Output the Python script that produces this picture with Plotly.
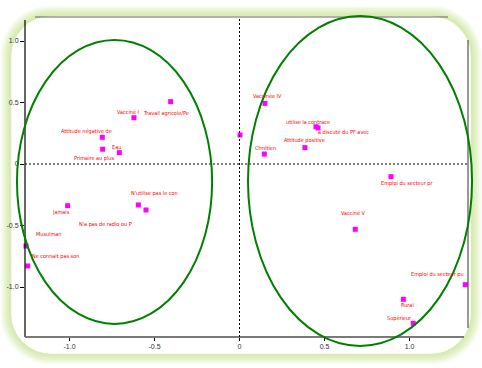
import plotly.graph_objects as go

# ---------------- data ----------------
labels = ["Travail agricole/Pe", "Vacciné I", "Attitude négative de", "Primaire au plus", "Eau",
          "Jamais", "N'utilise pas le con", "N'a pas de radio ou P", "Musulman", "Ne connait pas son",
          "Vaccinée IV", "utilise la contrace", "a discuté du PF avec", "", "Attitude positive",
          "Chrétien", "Emploi du secteur pr", "Vacciné V", "Emploi du secteur pu", "Rural", "Supérieur"]
x_vals = [-0.405, -0.621, -0.807, -0.805, -0.707,
          -1.011, -0.595, -0.550, -1.256, -1.246,
          0.150, 0.450, 0.462, 0.003, 0.385,
          0.146, 0.891, 0.681, 1.328, 0.964, 1.022]
y_vals = [0.507, 0.376, 0.217, 0.120, 0.092,
          -0.339, -0.333, -0.374, -0.667, -0.829,
          0.493, 0.303, 0.293, 0.236, 0.133,
          0.081, -0.103, -0.531, -0.981, -1.100, -1.295]
tick_vals = [-1.0, -0.5, 0.0, 0.5, 1.0]
x_tick_text = ["-1.0", "-0.5", "0", "0.5", "1.0"]
y_tick_text = ["-1.0", "-0.5", "0", "0.5", "1.0"]

# ellipses: centre x, centre y, radius x, radius y (data units)
ell_cx = [-0.735, 0.709]
ell_cy = [-0.146, -0.138]
ell_rx = [0.574, 0.659]
ell_ry = [1.154, 1.341]

# ---------------- layout / style ----------------
W, H = 482, 368
PX_L, PX_R, PX_T, PX_B = 25, 468, 17, 337       # plot area in pixels
X_RANGE = [-1.2618, 1.3441]
Y_RANGE = [-1.4065, 1.1951]

# label pixel offsets (dx, dy down)
lab_off = [(-5, 12), (-6, -6), (-16, -6), (-9, 9), (-3, -6),
           (-7, 7), (16, -11), (-41, 14), (23, -12), (28, -9),
           (2, -7), (-8, -5), (25, 4), (0, 0), (0, -7),
           (1, -6), (16, 7), (-2, -16), (-28, -10), (4, 6), (-14, -5)]

# overlay axis (whole figure) ranges so that ellipses are not clipped
sx = (X_RANGE[1] - X_RANGE[0]) / (PX_R - PX_L)
sy = (Y_RANGE[1] - Y_RANGE[0]) / (PX_B - PX_T)
X2_RANGE = [X_RANGE[0] - PX_L * sx, X_RANGE[1] + (W - PX_R) * sx]
Y2_RANGE = [Y_RANGE[0] - (H - PX_B) * sy, Y_RANGE[1] + PX_T * sy]


def px(x):
    return x / W


def py(y):
    return 1 - y / H


fig = go.Figure()
fig.add_trace(go.Scatter(
    x=x_vals, y=y_vals, mode="markers",
    marker=dict(symbol="square", size=5, color="#ff00ff"),
    cliponaxis=False, hoverinfo="skip", showlegend=False))
# invisible trace to create the overlay subplot
fig.add_trace(go.Scatter(x=[0], y=[0], xaxis="x2", yaxis="y2", mode="markers",
                         marker=dict(opacity=0), showlegend=False, hoverinfo="skip"))

shapes = []


def rounded_rect(l, t, r, b, rad):
    k = 0.5523 * rad
    pts = [
        f"M{px(l + rad)},{py(t)}", f"L{px(r - rad)},{py(t)}",
        f"C{px(r - rad + k)},{py(t)} {px(r)},{py(t + rad - k)} {px(r)},{py(t + rad)}",
        f"L{px(r)},{py(b - rad)}",
        f"C{px(r)},{py(b - rad + k)} {px(r - rad + k)},{py(b)} {px(r - rad)},{py(b)}",
        f"L{px(l + rad)},{py(b)}",
        f"C{px(l + rad - k)},{py(b)} {px(l)},{py(b - rad + k)} {px(l)},{py(b - rad)}",
        f"L{px(l)},{py(t + rad)}",
        f"C{px(l)},{py(t + rad - k)} {px(l + rad - k)},{py(t)} {px(l + rad)},{py(t)}", "Z"]
    return " ".join(pts)


# glow frame
glow_cols = ["#f7fbee", "#eef7dc", "#e6f2cc", "#dfeebf", "#d8ebb2"]
for i, c in enumerate(glow_cols):
    d = 9 - 2 * i
    shapes.append(dict(type="path", xref="paper", yref="paper",
                       path=rounded_rect(11 - d, 16 - d, 471 + d, 354 + d, 40 + d),
                       line=dict(color=c, width=2.5), layer="below"))

# axis frame lines
shapes += [
    dict(type="line", xref="paper", yref="paper", x0=px(25), x1=px(25), y0=py(20), y1=py(337),
         line=dict(color="#000000", width=1.2)),
    dict(type="line", xref="paper", yref="paper", x0=px(25), x1=px(464), y0=py(337), y1=py(337),
         line=dict(color="#7a7a7a", width=2)),
    dict(type="line", xref="paper", yref="paper", x0=px(35), x1=px(448), y0=py(17), y1=py(17),
         line=dict(color="#666666", width=1)),
    dict(type="line", xref="paper", yref="paper", x0=px(468), x1=px(468), y0=py(40), y1=py(328),
         line=dict(color="#333333", width=1)),
    dict(type="line", xref="x", yref="y domain", x0=0, x1=0, y0=0, y1=1,
         line=dict(color="#000000", width=1, dash="2px,2px")),
    dict(type="line", xref="x domain", yref="y", x0=0, x1=1, y0=0, y1=0,
         line=dict(color="#000000", width=1, dash="2px,2px")),
]
for cx, cy, rx, ry in zip(ell_cx, ell_cy, ell_rx, ell_ry):
    shapes.append(dict(type="circle", xref="x2", yref="y2",
                       x0=cx - rx, x1=cx + rx, y0=cy - ry, y1=cy + ry,
                       line=dict(color="#008000", width=2)))

annotations = []
for lab, x, y, (dx, dy) in zip(labels, x_vals, y_vals, lab_off):
    if not lab:
        continue
    annotations.append(dict(x=x, y=y, xref="x", yref="y", text=lab, showarrow=False,
                            xshift=dx, yshift=-dy,
                            font=dict(size=5.5, color="#ff0000",
                                      family="Liberation Sans Narrow, DejaVu Sans Condensed, Liberation Sans, Arial")))

tick_font = dict(size=7, color="#333333", family="Liberation Sans, Arial")
fig.update_layout(
    width=W, height=H,
    margin=dict(l=0, r=0, t=0, b=0),
    paper_bgcolor="white", plot_bgcolor="rgba(0,0,0,0)",
    showlegend=False,
    xaxis=dict(domain=[px(PX_L), px(PX_R)], range=X_RANGE, showgrid=False, zeroline=False,
               showline=False, ticks="outside", ticklen=3, tickcolor="#000000",
               tickvals=tick_vals, ticktext=x_tick_text, tickfont=tick_font,
               automargin=False, fixedrange=True),
    yaxis=dict(domain=[py(PX_B), py(PX_T)], range=Y_RANGE, showgrid=False, zeroline=False,
               showline=False, ticks="outside", ticklen=4, tickcolor="#000000",
               tickvals=tick_vals, ticktext=y_tick_text, tickfont=tick_font,
               automargin=False, fixedrange=True),
    xaxis2=dict(domain=[0, 1], range=X2_RANGE, anchor="y2", visible=False, fixedrange=True),
    yaxis2=dict(domain=[0, 1], range=Y2_RANGE, anchor="x2", visible=False, fixedrange=True),
    shapes=shapes,
    annotations=annotations,
)

fig.write_html("out.html", config={"displayModeBar": False},
               post_script="document.body.style.margin='0';document.body.style.overflow='hidden';")
